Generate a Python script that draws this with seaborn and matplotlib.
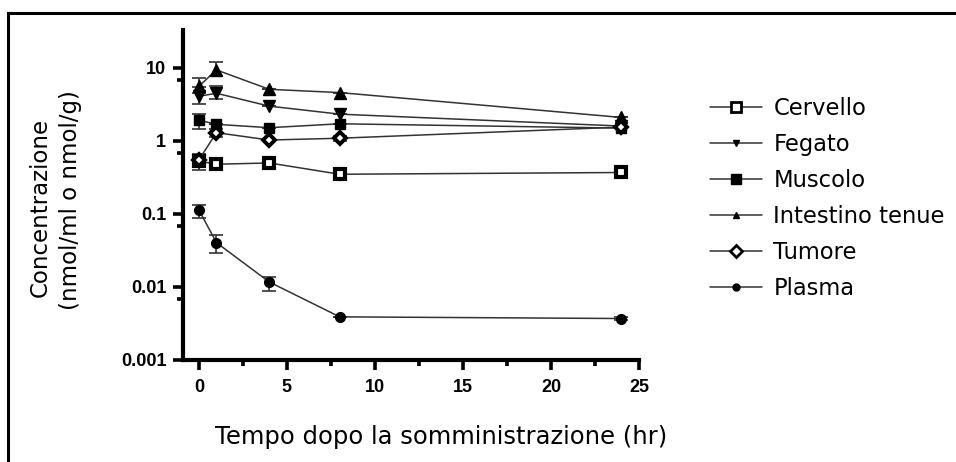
import numpy as np
import pandas as pd
import matplotlib
matplotlib.use("Agg")
import matplotlib.pyplot as plt
from matplotlib.lines import Line2D
from matplotlib.ticker import FixedLocator, NullFormatter
import seaborn as sns

# Sampling times (hr)
times = [0, 1, 4, 8, 24]

# Mean concentrations per tissue
cervello = [0.53, 0.48, 0.50, 0.35, 0.37]
fegato = [4.1, 4.5, 3.0, 2.33, 1.6]
muscolo = [1.93, 1.69, 1.52, 1.72, 1.5]
intestino = [5.6, 9.4, 5.1, 4.6, 2.1]
tumore = [0.55, 1.3, 1.03, 1.09, 1.55]
plasma = [0.114, 0.0405, 0.0117, 0.0039, 0.0037]

# Error bar limits (lower, upper)
cervello_lo = [0.40, 0.48, 0.50, 0.35, 0.37]
cervello_hi = [0.67, 0.48, 0.50, 0.35, 0.37]
fegato_lo = [3.2, 3.7, 3.0, 2.33, 1.6]
fegato_hi = [5.5, 5.6, 3.0, 2.33, 1.6]
muscolo_lo = [1.44, 1.69, 1.52, 1.72, 1.5]
muscolo_hi = [2.35, 1.69, 1.52, 1.72, 1.5]
intestino_lo = [4.6, 7.7, 5.1, 4.6, 2.1]
intestino_hi = [7.3, 11.9, 5.1, 4.6, 2.1]
tumore_lo = [0.45, 1.15, 1.03, 1.0, 1.55]
tumore_hi = [0.65, 1.45, 1.03, 1.18, 1.55]
plasma_lo = [0.087, 0.029, 0.0089, 0.0039, 0.0035]
plasma_hi = [0.133, 0.051, 0.0137, 0.0039, 0.0039]

labels = ["Cervello", "Fegato", "Muscolo", "Intestino tenue", "Tumore", "Plasma"]
means = [cervello, fegato, muscolo, intestino, tumore, plasma]
lows = [cervello_lo, fegato_lo, muscolo_lo, intestino_lo, tumore_lo, plasma_lo]
highs = [cervello_hi, fegato_hi, muscolo_hi, intestino_hi, tumore_hi, plasma_hi]

x_ticks = [0, 5, 10, 15, 20, 25]
y_ticks = [0.001, 0.01, 0.1, 1, 10]
y_tick_labels = ["0.001", "0.01", "0.1", "1", "10"]

# marker, size, face colour, edge width
styles = {
    "Cervello": ("s", 7.5, "white", 3.0),
    "Fegato": ("v", 8, "black", 1.0),
    "Muscolo": ("s", 7.5, "black", 1.0),
    "Intestino tenue": ("^", 8, "black", 1.0),
    "Tumore": ("D", 6.5, "white", 2.8),
    "Plasma": ("o", 7, "black", 1.0),
}
legend_sizes = {"Cervello": 7, "Fegato": 5, "Muscolo": 7, "Intestino tenue": 5,
                "Tumore": 6, "Plasma": 5}

sns.set_theme(style="ticks")
plt.rcParams["font.family"] = ["DejaVu Sans"]
plt.rcParams["text.color"] = "black"
plt.rcParams["xtick.color"] = "black"
plt.rcParams["ytick.color"] = "black"
plt.rcParams["xtick.labelcolor"] = "black"
plt.rcParams["ytick.labelcolor"] = "black"

fig = plt.figure(figsize=(9.56, 4.62), dpi=100)
ax = fig.add_axes([183 / 956, 1 - 360 / 462, (639 - 183) / 956, (360 - 30) / 462])

rows = []
for lab, m, lo, hi in zip(labels, means, lows, highs):
    for t, v, l, h in zip(times, m, lo, hi):
        rows.append({"tempo": t, "conc": v, "lo": l, "hi": h, "tessuto": lab})
df = pd.DataFrame(rows)

lw = 1.1
line_col = "#333333"
for lab in labels:
    sub = df[df["tessuto"] == lab]
    mk, ms, fc, mew = styles[lab]
    ax.errorbar(sub["tempo"], sub["conc"],
                yerr=[sub["conc"] - sub["lo"], sub["hi"] - sub["conc"]],
                fmt="none", ecolor=line_col, elinewidth=1.2, capsize=5, capthick=1.2,
                zorder=2)
    sns.lineplot(data=sub, x="tempo", y="conc", ax=ax, color=line_col, lw=lw,
                 marker=mk, markersize=ms, markerfacecolor=fc,
                 markeredgecolor="black", markeredgewidth=mew,
                 errorbar=None, legend=False, zorder=3)

ax.set_yscale("log")
ax.set_xlim(-0.9, 25)
ax.set_ylim(0.001, 10 ** 1.52)
ax.set_xlabel("")
ax.set_ylabel("")

ax.xaxis.set_major_locator(FixedLocator(x_ticks))
ax.xaxis.set_minor_locator(FixedLocator([2.5, 7.5, 12.5, 17.5, 22.5]))
ax.yaxis.set_major_locator(FixedLocator(y_ticks))
ax.yaxis.set_minor_locator(FixedLocator([10 ** (k - 0.17) for k in [-2, -1, 0, 1]]))
ax.yaxis.set_minor_formatter(NullFormatter())
ax.set_yticklabels(y_tick_labels)

for side in ["top", "right"]:
    ax.spines[side].set_visible(False)
for side in ["left", "bottom"]:
    ax.spines[side].set_linewidth(3.0)
    ax.spines[side].set_color("black")

for lbl in ax.get_xticklabels() + ax.get_yticklabels():
    lbl.set_fontfamily("Liberation Sans")
    lbl.set_fontweight("bold")
    lbl.set_fontsize(13)
ax.tick_params(axis="x", which="major", length=7, width=2.6, pad=7)
ax.tick_params(axis="x", which="minor", length=4, width=2.6)
ax.tick_params(axis="y", which="major", length=7, width=2.6, pad=5)
ax.tick_params(axis="y", which="minor", length=4, width=2.6)

# Legend
handles = []
for lab in labels:
    mk, ms, fc, mew = styles[lab]
    handles.append(Line2D([0], [0], color=line_col, lw=lw, marker=mk,
                          markersize=legend_sizes[lab], markerfacecolor=fc,
                          markeredgecolor="black",
                          markeredgewidth=2.0 if fc == "white" else 1.0))
fig.legend(handles, labels, loc="upper left",
           bbox_to_anchor=(701 / 956, 1 - 88 / 462), frameon=False,
           fontsize=16.3, handlelength=2.3, handletextpad=0.5,
           labelspacing=0.57, borderaxespad=0)

# Axis titles
fig.text(441 / 956, 1 - 437 / 462, "Tempo dopo la somministrazione (hr)",
         ha="center", va="center", fontsize=17.5)
fig.text(40 / 956, 1 - 207 / 462, "Concentrazione", rotation=90,
         ha="center", va="center", fontsize=16.5)
fig.text(70 / 956, 1 - 200 / 462, "(nmol/ml o nmol/g)", rotation=90,
         ha="center", va="center", fontsize=16.5)

# Outer frame (left and top edges)
fig.add_artist(Line2D([8 / 956, 8 / 956], [0, 1 - 13 / 462], color="black",
                      lw=2.2, transform=fig.transFigure, solid_capstyle="projecting"))
fig.add_artist(Line2D([8 / 956, 1], [1 - 13 / 462, 1 - 13 / 462], color="black",
                      lw=2.2, transform=fig.transFigure, solid_capstyle="projecting"))

fig.savefig("out.png", dpi=100, facecolor="white")
